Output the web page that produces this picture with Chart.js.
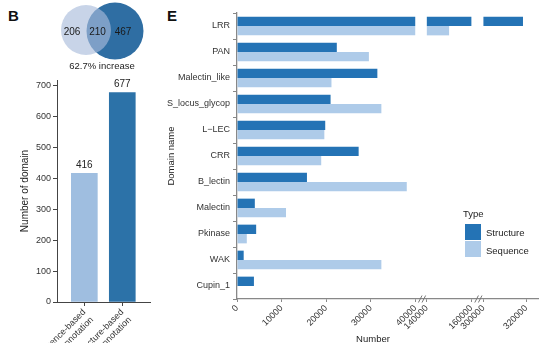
<!DOCTYPE html>
<html>
<head>
<meta charset="utf-8">
<script src="https://cdn.jsdelivr.net/npm/chart.js@4.4.0/dist/chart.umd.min.js"></script>
<style>
  html, body { margin: 0; padding: 0; background: #fff; overflow: hidden; }
  body { width: 556px; height: 343px; position: relative; font-family: "Liberation Sans", Arial, sans-serif; color: #222; }
  canvas { position: absolute; }
  .tag { position: absolute; font-weight: bold; font-size: 15px; color: #111; line-height: 1; }
  .txt { position: absolute; font-size: 9.5px; line-height: 1; white-space: nowrap; color: #222; }
  .key { position: absolute; width: 16px; height: 16px; }
</style>
</head>
<body>
<div class="tag" style="left:8px; top:8px;">B</div>
<div class="tag" style="left:167px; top:8px;">E</div>

<canvas id="venn" width="100" height="64" style="left:55px; top:0px;"></canvas>
<div class="txt" id="increase" style="left:102px; top:61px; transform:translateX(-50%);"></div>
<canvas id="barB" width="160" height="273" style="left:0px; top:70px;"></canvas>
<canvas id="barE" width="396" height="343" style="left:160px; top:0px;"></canvas>

<div class="txt" style="left:463px; top:209px;">Type</div>
<div class="key" style="left:465px; top:224px; background:#2473b5;"></div>
<div class="key" style="left:465px; top:241px; background:#aecbe9;"></div>
<div class="txt" style="left:486px; top:228px;">Structure</div>
<div class="txt" style="left:486px; top:246px;">Sequence</div>
<div class="txt" style="left:373px; top:334px; transform:translateX(-50%);">Number</div>

<script>
// Venn counts: sequence only, shared, structure only
const vennCounts = [206, 210, 467];

// panel B: domains found by each annotation
const annotationTypes = [['Sequence-based', 'annotation'], ['Structure-based', 'annotation']];
const domainTotals = [416, 677];

// panel E: domain counts per domain name
const domainNames = ['LRR', 'PAN', 'Malectin_like', 'S_locus_glycop', 'L\u2212LEC', 'CRR',
  'B_lectin', 'Malectin', 'Pkinase', 'WAK', 'Cupin_1'];
const structureCounts = [318500, 22400, 31500, 21000, 19800, 27300, 15700, 4000, 4300, 1500, 3800];
const sequenceCounts = [150000, 29600, 21200, 32400, 19600, 18900, 38100, 11000, 2200, 32400, 0];
const xTickValues = [0, 10000, 20000, 30000, 40000, 140000, 160000, 300000, 320000];

const structureColor = '#2473b5';
const sequenceColor = '#aecbe9';

Chart.defaults.font.family = '"Liberation Sans", Arial, sans-serif';
Chart.defaults.color = '#333';

// ---------- Venn ----------
const vennLabels = {
  id: 'vennLabels',
  afterDatasetsDraw(chart) {
    const { ctx, scales: { x, y } } = chart;
    const spots = [17, 42.5, 68];
    ctx.save();
    ctx.font = '10px "Liberation Sans", Arial, sans-serif';
    ctx.fillStyle = '#1a1a1a';
    ctx.textAlign = 'center';
    ctx.textBaseline = 'middle';
    vennCounts.forEach((c, i) => ctx.fillText(c, x.getPixelForValue(spots[i]), y.getPixelForValue(32)));
    ctx.restore();
  }
};

new Chart(document.getElementById('venn'), {
  type: 'bubble',
  data: {
    datasets: [
      { data: [{ x: 31, y: 30, r: 25 }], backgroundColor: 'rgba(169,188,219,0.64)', borderWidth: 0 },
      { data: [{ x: 60, y: 31, r: 28.5 }], backgroundColor: '#2f6ea3', borderWidth: 0 }
    ]
  },
  options: {
    responsive: false, animation: false, events: [], clip: false,
    layout: { padding: 0, autoPadding: false },
    plugins: { legend: { display: false }, tooltip: { enabled: false } },
    scales: {
      x: { type: 'linear', min: 0, max: 100, display: false },
      y: { type: 'linear', min: 0, max: 64, reverse: true, display: false }
    }
  },
  plugins: [vennLabels]
});

const pct = (domainTotals[1] - domainTotals[0]) / domainTotals[0] * 100;
document.getElementById('increase').textContent = pct.toFixed(1) + '% increase';

// ---------- panel B ----------
const barValueLabels = {
  id: 'barValueLabels',
  afterDatasetsDraw(chart) {
    const { ctx } = chart;
    const meta = chart.getDatasetMeta(0);
    ctx.save();
    ctx.font = '10px "Liberation Sans", Arial, sans-serif';
    ctx.fillStyle = '#222';
    ctx.textAlign = 'center';
    ctx.textBaseline = 'bottom';
    meta.data.forEach((bar, i) => ctx.fillText(domainTotals[i], bar.x, bar.y - 3));
    ctx.restore();
  }
};

new Chart(document.getElementById('barB'), {
  type: 'bar',
  data: {
    datasets: [{
      data: domainTotals.map((v, i) => ({ x: i + 1, y: v })),
      backgroundColor: ['#9fbee0', '#2c72a8'],
      borderWidth: 0,
      barThickness: 26
    }]
  },
  options: {
    responsive: false, animation: false, events: [],
    layout: { padding: { top: 10, right: 10, left: 0, bottom: 0 } },
    plugins: { legend: { display: false }, tooltip: { enabled: false } },
    scales: {
      x: {
        type: 'linear', min: 0.28, max: 2.73, offset: false, grace: 0,
        afterBuildTicks: s => { s.ticks = annotationTypes.map((t, i) => ({ value: i + 1 })); },
        afterFit: s => { s.height = 41; },
        ticks: {
          callback: (v) => annotationTypes[v - 1],
          minRotation: 45, maxRotation: 45, autoSkip: false,
          font: { size: 9 }, color: '#333', padding: 1
        },
        grid: { display: true, drawOnChartArea: false, offset: false, tickLength: 4, color: '#444' },
        border: { display: true, color: '#444', width: 1 }
      },
      y: {
        min: 0, max: 718,
        afterFit: s => { s.width = 57; },
        ticks: { stepSize: 100, includeBounds: false, font: { size: 9 }, color: '#333', padding: 2 },
        grid: { display: true, drawOnChartArea: false, tickLength: 4, color: '#444' },
        border: { display: true, color: '#444', width: 1 },
        title: { display: true, text: 'Number of domain', font: { size: 10 }, color: '#222', padding: { top: 19, bottom: 0 } }
      }
    }
  },
  plugins: [barValueLabels]
});

// ---------- panel E: broken x axis ----------
// each piece of the axis maps a value range onto a stretch of the linear scale
const axisSegments = [
  { from: 0, to: 40000, at: 0, k: 1 },
  { from: 140000, to: 160000, at: 42600, k: 0.5 },
  { from: 300000, to: 320000, at: 55300, k: 0.48 }
];

function toAxis(v) {
  const seg = axisSegments.find(s => v <= s.to) || axisSegments[axisSegments.length - 1];
  return seg.at + (v - seg.from) * seg.k;
}

function segmentData(values, seg) {
  return values.map(v => v > seg.from ? [seg.at, seg.at + (Math.min(v, seg.to) - seg.from) * seg.k] : null);
}

const datasets = [];
[['Structure', structureCounts, structureColor], ['Sequence', sequenceCounts, sequenceColor]].forEach(([name, values, color]) => {
  axisSegments.forEach(seg => {
    datasets.push({
      label: name, stack: name, data: segmentData(values, seg),
      backgroundColor: color, borderWidth: 0,
      categoryPercentage: 0.72, barPercentage: 1
    });
  });
});

const axisBreaks = {
  id: 'axisBreaks',
  afterDraw(chart) {
    const { ctx, scales: { x }, chartArea } = chart;
    const yAxis = chartArea.bottom;
    ctx.save();
    ctx.strokeStyle = '#777';
    ctx.lineWidth = 1;
    for (let i = 1; i < axisSegments.length; i++) {
      const prevEnd = axisSegments[i - 1].at + (axisSegments[i - 1].to - axisSegments[i - 1].from) * axisSegments[i - 1].k;
      const mid = x.getPixelForValue((prevEnd + axisSegments[i].at) / 2) + 1;
      [-1.8, 1.8].forEach(dx => {
        ctx.beginPath();
        ctx.moveTo(mid + dx - 1.8, yAxis + 3.5);
        ctx.lineTo(mid + dx + 1.8, yAxis - 3.5);
        ctx.stroke();
      });
    }
    ctx.restore();
  }
};

new Chart(document.getElementById('barE'), {
  type: 'bar',
  data: { labels: domainNames, datasets: datasets },
  options: {
    indexAxis: 'y',
    responsive: false, animation: false, events: [],
    layout: { padding: { top: 13, right: 18, left: 0, bottom: 0 } },
    plugins: { legend: { display: false }, tooltip: { enabled: false } },
    scales: {
      x: {
        type: 'linear', min: 0, max: 67550, stacked: false,
        afterBuildTicks: s => { s.ticks = xTickValues.map(v => ({ value: toAxis(v) })); },
        afterFit: s => { s.height = 44; },
        ticks: {
          callback: (v, i) => xTickValues[i],
          minRotation: 45, maxRotation: 45, autoSkip: false,
          font: { size: 9 }, color: '#333', padding: 1
        },
        grid: { display: true, drawOnChartArea: false, tickLength: 3, color: '#888' },
        border: { display: true, color: '#888', width: 1.3 }
      },
      y: {
        stacked: true, offset: true,
        afterFit: s => { s.width = 77; },
        ticks: { font: { size: 9 }, color: '#333', padding: 3 },
        grid: { display: true, drawOnChartArea: false, tickLength: 4, color: '#888' },
        border: { display: true, color: '#888', width: 1.3 },
        title: { display: true, text: 'Domain name', font: { size: 9.5 }, color: '#222', padding: { top: 6, bottom: 0 } }
      }
    }
  },
  plugins: [axisBreaks]
});
</script>
</body>
</html>
